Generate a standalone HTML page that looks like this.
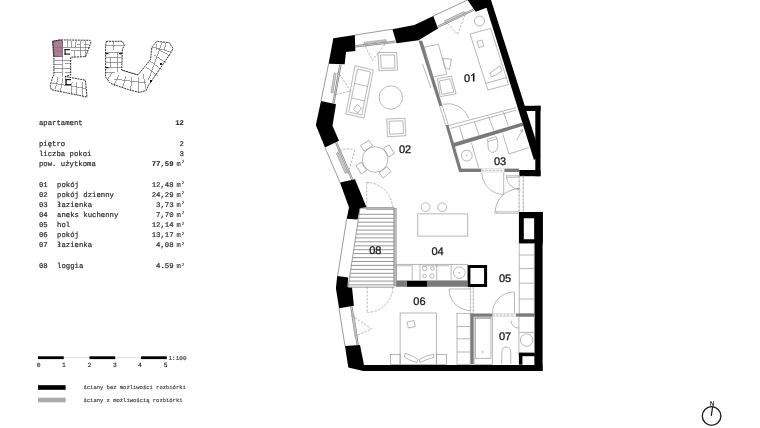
<!DOCTYPE html>
<html><head><meta charset="utf-8">
<style>
html,body{margin:0;padding:0;background:#fff;width:760px;height:428px;overflow:hidden}
svg{display:block;will-change:transform;text-rendering:geometricPrecision}
.m{font-family:"Liberation Mono",monospace;fill:#2a2a2a;stroke:#2a2a2a;stroke-width:0.2;font-size:7.3px}
.b{font-weight:bold;fill:#1a1a1a;stroke-width:0.05}
.mm{fill:#444;stroke:#444;stroke-width:0.15;font-size:7.3px}
.sup{fill:#444;stroke:#444;stroke-width:0.1;font-size:4.2px}
.sm{fill:#444;stroke:#444;stroke-width:0.16}
.lab{font-family:"Liberation Sans",sans-serif;fill:#1a1a1a;stroke:#1a1a1a;stroke-width:0.3;font-size:11px}
.f{fill:none;stroke:#999;stroke-width:0.7}
.d{fill:none;stroke:#999;stroke-width:0.7;stroke-dasharray:2.4 1.3}
.g{fill:#7a7a7a}
</style></head>
<body>
<svg width="760" height="428" viewBox="0 0 760 428">
<rect width="760" height="428" fill="#fff"/>

<!-- ============ TEXT BLOCK ============ -->
<g class="m">
<text x="38.9" y="125">apartament</text>
<text x="184" y="125" text-anchor="end" class="b">12</text>
<text x="38.9" y="145.5">piętro</text>
<text x="184" y="145.5" text-anchor="end">2</text>
<text x="38.9" y="155.7">liczba pokoi</text>
<text x="184" y="155.7" text-anchor="end">3</text>
<text x="38.9" y="166">pow. użytkoma</text>
<text x="173.6" y="166" text-anchor="end" class="b">77,59</text><text x="176.5" y="166" class="mm">m</text><text x="181.7" y="163.4" class="sup">2</text>

<text x="38.9" y="187">01</text><text x="57" y="187">pokój</text><text x="173.6" y="187" text-anchor="end">12,48</text><text x="176.5" y="187" class="mm">m</text><text x="181.7" y="184.4" class="sup">2</text>
<text x="38.9" y="197">02</text><text x="57" y="197">pokój dzienny</text><text x="173.6" y="197" text-anchor="end">24,29</text><text x="176.5" y="197" class="mm">m</text><text x="181.7" y="194.4" class="sup">2</text>
<text x="38.9" y="207">03</text><text x="57" y="207">łazienka</text><text x="173.6" y="207" text-anchor="end">3,73</text><text x="176.5" y="207" class="mm">m</text><text x="181.7" y="204.4" class="sup">2</text>
<text x="38.9" y="217">04</text><text x="57" y="217">aneks kuchenny</text><text x="173.6" y="217" text-anchor="end">7,70</text><text x="176.5" y="217" class="mm">m</text><text x="181.7" y="214.4" class="sup">2</text>
<text x="38.9" y="227.3">05</text><text x="57" y="227.3">hol</text><text x="173.6" y="227.3" text-anchor="end">12,14</text><text x="176.5" y="227.3" class="mm">m</text><text x="181.7" y="224.7" class="sup">2</text>
<text x="38.9" y="237.4">06</text><text x="57" y="237.4">pokój</text><text x="173.6" y="237.4" text-anchor="end">13,17</text><text x="176.5" y="237.4" class="mm">m</text><text x="181.7" y="234.8" class="sup">2</text>
<text x="38.9" y="247.4">07</text><text x="57" y="247.4">łazienka</text><text x="173.6" y="247.4" text-anchor="end">4,08</text><text x="176.5" y="247.4" class="mm">m</text><text x="181.7" y="244.8" class="sup">2</text>
<text x="38.9" y="268.2">08</text><text x="57" y="268.2">loggia</text><text x="173.6" y="268.2" text-anchor="end">4.59</text><text x="176.5" y="268.2" class="mm">m</text><text x="181.7" y="265.6" class="sup">2</text>
</g>

<!-- scale bar -->
<rect x="38" y="356.3" width="25.8" height="2.8" fill="#000"/>
<rect x="63.8" y="357.2" width="25.7" height="1" fill="#ddd"/>
<rect x="89.5" y="356.3" width="25.8" height="2.8" fill="#000"/>
<rect x="115.3" y="357.2" width="25.7" height="1" fill="#ddd"/>
<rect x="141" y="356.3" width="25.8" height="2.8" fill="#000"/>
<g class="m sm" style="font-size:6.3px;fill:#333;stroke:#333" text-anchor="middle">
<text x="38.7" y="367">0</text><text x="64" y="367">1</text><text x="89.5" y="367">2</text>
<text x="114.8" y="367">3</text><text x="140" y="367">4</text><text x="165.6" y="367">5</text>
</g>
<text class="m sm" x="168.5" y="359.5" style="font-size:6px">1:100</text>

<!-- legend -->
<rect x="38" y="385.2" width="27.6" height="4.6" fill="#000"/>
<rect x="38" y="397.7" width="27.6" height="4.6" fill="#aaa"/>
<text class="m sm" x="83.5" y="389" style="font-size:5.5px">ściany bez możliwości rozbiórki</text>
<text class="m sm" x="83.5" y="401.5" style="font-size:5.5px">ściany z możliwością rozbiórki</text>

<!-- compass -->
<circle cx="711.6" cy="416" r="9.3" fill="none" stroke="#1a1a1a" stroke-width="1.3"/>
<line x1="711.3" y1="415.8" x2="712.6" y2="406.8" stroke="#1a1a1a" stroke-width="1.2"/>
<text x="712.2" y="405.6" text-anchor="middle" transform="translate(712.2 0) scale(0.85 1) translate(-712.2 0)" style="font-family:'Liberation Sans',sans-serif;font-size:6.8px;fill:#1a1a1a;stroke:#1a1a1a;stroke-width:0.25">N</text>


<!-- ============ MINIMAP ============ -->
<g id="mini">
<polygon points="52.7,41.3 60.1,39.9 62.5,41 62.5,56.5 53.6,56.5" fill="#b27a92" stroke="#5a3848" stroke-width="0.7"/>
<g fill="none" stroke="#777" stroke-width="0.7" shape-rendering="crispEdges">
<!-- bldg1 top wing -->
<polyline points="62.5,40.5 62.5,56"/>
<line x1="67" y1="40.5" x2="67" y2="47"/><line x1="71.5" y1="40.5" x2="71.5" y2="47"/><line x1="76" y1="40.5" x2="75.5" y2="47"/>
<line x1="80.5" y1="40.5" x2="80.5" y2="56.5"/><line x1="85" y1="41" x2="85" y2="56.5"/>
<line x1="62.5" y1="47" x2="90" y2="47"/><line x1="70.5" y1="50.5" x2="88" y2="50.5"/>
<line x1="74" y1="50.5" x2="74" y2="57"/><line x1="77" y1="44" x2="80" y2="44"/><line x1="84" y1="44" x2="89" y2="44"/>
<!-- bldg1 column -->
<line x1="54" y1="47" x2="62.5" y2="47"/><line x1="53.8" y1="51.5" x2="62.5" y2="51.5"/>
<line x1="54" y1="60" x2="70.7" y2="60"/><line x1="54" y1="64" x2="62" y2="64"/><line x1="54" y1="68" x2="70.7" y2="68"/><line x1="54" y1="72" x2="62" y2="72"/>
<line x1="62" y1="56" x2="62" y2="76.5"/><line x1="65" y1="63" x2="70.7" y2="63"/><line x1="65" y1="72" x2="70.7" y2="72"/>
<!-- bldg1 bottom wing -->
<line x1="58" y1="77" x2="55.5" y2="88.5"/><line x1="63" y1="78" x2="60.5" y2="90.5"/><line x1="72" y1="81.5" x2="71" y2="94"/><line x1="77" y1="82" x2="76.5" y2="95"/><line x1="82" y1="82" x2="82" y2="96"/>
<line x1="52" y1="83" x2="86" y2="88.5"/><line x1="65" y1="76.5" x2="65" y2="86"/>
<!-- bldg2 left arm -->
<line x1="106" y1="45.5" x2="124" y2="45.5"/><line x1="106" y1="52" x2="122" y2="52"/><line x1="106" y1="57" x2="122" y2="57"/><line x1="106" y1="62" x2="122" y2="62"/><line x1="106" y1="67" x2="122" y2="67"/><line x1="106" y1="72" x2="115" y2="72"/>
<line x1="113" y1="41.5" x2="113" y2="50"/><line x1="117" y1="52" x2="117" y2="72"/><line x1="110" y1="57" x2="110" y2="67"/>
<!-- bldg2 bottom -->
<line x1="112" y1="73" x2="107.5" y2="79.5"/><line x1="119" y1="75" x2="114" y2="85.5"/><line x1="126" y1="76" x2="122.5" y2="88"/><line x1="132" y1="77" x2="130.5" y2="90.5"/><line x1="138" y1="76.5" x2="139" y2="92"/><line x1="143" y1="74" x2="146" y2="89"/>
<line x1="114" y1="79" x2="146" y2="83"/><line x1="121.7" y1="70" x2="137.9" y2="75"/>
<!-- bldg2 right arm -->
<line x1="146" y1="67" x2="158" y2="76"/><line x1="150" y1="61" x2="162" y2="70"/><line x1="154" y1="55" x2="166" y2="63"/><line x1="158" y1="49" x2="170" y2="56"/>
<line x1="151.9" y1="46.9" x2="171" y2="52"/><line x1="162" y1="41.5" x2="148" y2="80"/><line x1="157" y1="44" x2="156" y2="50"/><line x1="166" y1="43" x2="164" y2="50"/>
</g>
<g fill="none" stroke="#1a1a1a" stroke-width="0.9" stroke-dasharray="2 0.8">
<polygon points="52.7,41.3 60.1,39.9 89.9,40.3 91,42 85.7,56.7 70.7,57.2 70.7,75 65,76.5 85.4,80.2 87,97 51.3,89.7 50.3,85.5 52.9,76 53.9,75.5 53.9,55"/>
<polygon points="106.3,41.3 122.4,41.3 124.5,45.5 122.4,49 121.7,70 137.9,75 150.5,59.5 151.9,46.9 156.8,41.3 169.4,42.7 172.9,48.3 171.5,51.8 148.4,85.5 146.3,90.4 139.3,92.5 126.6,89 110.5,83.4 105.6,77.1 105.6,46.2"/>
</g>
<g fill="#1a1a1a">
<rect x="64.5" y="49" width="5.5" height="1.2"/><rect x="64.5" y="53.5" width="5.5" height="1.2"/><rect x="64.5" y="49" width="1.2" height="5.7"/>
<rect x="65.5" y="79" width="5.5" height="1.2"/><rect x="65.5" y="84" width="5.5" height="1.2"/><rect x="65.5" y="79" width="1.2" height="6"/>
<rect x="105.5" y="53" width="3" height="1.3"/><rect x="119" y="53" width="3" height="1.3"/>
<rect x="105.5" y="67" width="3" height="1.3"/><rect x="150" y="80" width="2" height="2"/><rect x="160" y="63" width="2" height="2"/>
</g>
</g>
<!-- ============ FLOOR PLAN ============ -->
<g id="plan">
<!-- black walls -->
<g fill="#000">
<polygon points="333.3,38.3 354.8,35.1 355.4,50.9 346,52 344.7,64.2 328.6,63.8"/>
<polygon points="392.4,29.2 414.4,25 433.3,16 438,28.6 418.6,40.2 396.6,43.3"/>
<polygon points="467.5,0 491,0 540.5,155 534,160 486.5,7.7 475.7,11.8"/>
<rect x="522" y="105.8" width="18.5" height="5.2"/>
<rect x="535.3" y="105.8" width="5.2" height="70.4"/>
<rect x="519.3" y="170" width="21.2" height="6.2"/>
<polygon points="321,101 336,104.2 332.5,125.8 339,140.8 325,147.5 315.8,125"/>
<polygon points="340,182.5 355,179.2 366.5,207.3 360,208.3 357.5,219.5 346.7,218.8 349,207.5"/>
<polygon points="337.2,276.1 348.1,277.4 347.5,287 352,287.6 353.9,305.8 339.1,308.2 335.9,288.3"/>
<polygon points="345,346 360,345 364,364.9 542.5,364.9 542.5,371 363.3,371 348.3,367.5"/>
<path d="M518.9,211.9 H542.8 V243.5 H518.9 Z M523.8,218.2 V239.3 H534.4 V218.2 Z" fill-rule="evenodd"/>
<rect x="534.4" y="211.9" width="8.2" height="159"/>
<path d="M467.4,264.9 H487.1 V286.9 H467.4 Z M470.4,267.9 V283.9 H484.1 V267.9 Z" fill-rule="evenodd"/>
<rect x="406.7" y="280.9" width="20.8" height="5.9"/>
<rect x="518.9" y="352.7" width="16" height="3.5"/>
<rect x="518.9" y="352.7" width="3.5" height="12"/>
</g>

<!-- gray walls -->
<g class="g">
<polygon points="418.6,40.7 422.3,40.7 442.5,106 439.3,106"/>
<polygon points="445.5,125 448.5,125 462.3,171.7 459,171.7"/>
<polygon points="451.5,143.5 522.5,122.5 523.5,125.8 453,147.2"/>
<rect x="459" y="168.6" width="22.2" height="3.4"/>
<rect x="504.4" y="168.6" width="14.6" height="3.4"/>
<rect x="396" y="280.9" width="10.7" height="5.9"/>
<rect x="427.5" y="280.9" width="40" height="5.9"/>
<rect x="470.4" y="313.5" width="22" height="3.2"/>
<rect x="516" y="313.5" width="18.4" height="3.2"/>
<rect x="470.4" y="313.5" width="3.2" height="50.8"/>
</g>

<!-- window & thin outlines -->
<g fill="none" stroke="#555" stroke-width="0.6">
<line x1="354.8" y1="35.1" x2="392.4" y2="29.2"/>
<line x1="433.3" y1="16" x2="467.5" y2="0"/>
<line x1="328.6" y1="63.8" x2="321" y2="101"/>
<line x1="325" y1="147.5" x2="340" y2="182.5"/>
<line x1="346.7" y1="218.8" x2="337.5" y2="276.7"/>
<line x1="339" y1="308.3" x2="345" y2="346"/>
</g>
<!-- window frames -->
<g fill="none" stroke="#333" stroke-width="0.55">
<line x1="355.4" y1="45.6" x2="395.5" y2="41"/>
<line x1="355.5" y1="47" x2="395.7" y2="42.4"/>
<line x1="437.5" y1="26.2" x2="473.5" y2="9"/>
<line x1="438.1" y1="27.5" x2="474.1" y2="10.3"/>
<line x1="339.8" y1="64.5" x2="332.6" y2="103.8"/>
<line x1="341.2" y1="64.7" x2="334" y2="104"/>
<line x1="335.4" y1="142.5" x2="351.8" y2="180.3"/>
<line x1="336.7" y1="142" x2="353.1" y2="179.8"/>
<line x1="350.6" y1="306.5" x2="357.2" y2="346"/>
<line x1="352" y1="306.3" x2="358.6" y2="345.8"/>
</g>
<g fill="#c8c8c8" stroke="#777" stroke-width="0.4">
<polygon points="364,42.2 386,39.6 386.3,41.8 364.3,44.4"/>
<polygon points="444.6,20.7 464.2,11.3 465.2,13.3 445.6,22.7"/>
<polygon points="334.1,72.9 336.3,73.3 333,92.9 330.8,92.5"/>
<polygon points="336.3,153.5 338.3,152.6 347.2,172.5 345.2,173.4"/>
<polygon points="351.8,315.5 354,315.2 357.2,336.5 355,336.8"/>
</g>
<g fill="#fff" stroke="#555" stroke-width="0.4">
<circle cx="364.5" cy="45.3" r="0.9"/><circle cx="385.8" cy="42.8" r="0.9"/>
<circle cx="445" cy="23.5" r="0.9"/><circle cx="464.7" cy="14.2" r="0.9"/>
<circle cx="338.3" cy="73.2" r="0.9"/><circle cx="335" cy="93" r="0.9"/>
<circle cx="338.3" cy="152.6" r="0.9"/><circle cx="347.2" cy="172" r="0.9"/>
<circle cx="352.9" cy="315.5" r="0.9"/><circle cx="356.2" cy="336.5" r="0.9"/>
</g>
<!-- loggia -->
<g>
<polygon points="360,208.3 394,208.3 394,285.8 348.3,285.8" fill="none" stroke="#888" stroke-width="0.8"/>
<g stroke="#8a8a8a" stroke-width="0.9">
<line x1="359.0" y1="214.3" x2="394" y2="214.3"/>
<line x1="358.5" y1="218.3" x2="394" y2="218.3"/>
<line x1="357.9" y1="222.2" x2="394" y2="222.2"/>
<line x1="357.3" y1="226.1" x2="394" y2="226.1"/>
<line x1="356.7" y1="230.1" x2="394" y2="230.1"/>
<line x1="356.1" y1="234.0" x2="394" y2="234.0"/>
<line x1="355.5" y1="237.9" x2="394" y2="237.9"/>
<line x1="354.9" y1="241.8" x2="394" y2="241.8"/>
<line x1="354.3" y1="245.8" x2="394" y2="245.8"/>
<line x1="353.7" y1="249.7" x2="394" y2="249.7"/>
<line x1="353.1" y1="253.6" x2="394" y2="253.6"/>
<line x1="352.5" y1="257.6" x2="394" y2="257.6"/>
<line x1="352.0" y1="261.5" x2="394" y2="261.5"/>
<line x1="351.4" y1="265.4" x2="394" y2="265.4"/>
<line x1="350.8" y1="269.4" x2="394" y2="269.4"/>
<line x1="350.2" y1="273.3" x2="394" y2="273.3"/>
<line x1="349.6" y1="277.2" x2="394" y2="277.2"/>
<line x1="349.0" y1="281.1" x2="394" y2="281.1"/>
</g>
<rect x="394" y="208.3" width="2.2" height="77.5" fill="#bbb" stroke="#777" stroke-width="0.4"/>
<rect x="366.5" y="207.3" width="27.5" height="2.4" fill="#bbb" stroke="#777" stroke-width="0.4"/>
<rect x="348.3" y="284.6" width="45.7" height="2.7" fill="#ddd" stroke="#777" stroke-width="0.45"/>
</g>


<!-- furniture -->
<g class="f">
<!-- room 02 -->
<polygon points="378,52.5 396.7,52.5 397.5,70 379,70.8"/>
<polygon points="380.5,55 394.5,55 395,68 381.2,68.3"/>
<polygon points="355,65.8 373.3,70 364,118 345.8,114"/>
<polygon points="357.5,69 370.5,72 361.8,115 348.6,112"/>
<line x1="354.6" y1="83.5" x2="368" y2="86.5"/>
<line x1="351.8" y1="98" x2="365" y2="101"/>
<polygon points="357,104.5 361.5,108 358,113 353.5,109.5"/>
<circle cx="390.8" cy="97.5" r="11.7"/>
<polygon points="386.7,119 405,118.3 405.8,135.8 387.5,136.7"/>
<polygon points="389,121.3 403,120.8 403.5,133.5 389.7,134.2"/>
<circle cx="375.1" cy="159.5" r="12.8"/>
<g transform="translate(375.1 159.5)">
<rect x="-5" y="-19.5" width="10" height="6.5" transform="rotate(-32)"/>
<rect x="-5" y="-19.5" width="10" height="6.5" transform="rotate(58)"/>
<rect x="-5" y="-19.5" width="10" height="6.5" transform="rotate(142)"/>
<rect x="-5" y="-19.5" width="10" height="6.5" transform="rotate(-122)"/>
</g>
<!-- room 01 -->
<circle cx="479.5" cy="21" r="5"/>
<polygon points="470.1,34 490.7,28.4 508.5,84.5 487.9,90.1"/>
<line x1="486" y1="83.2" x2="506.6" y2="77.6"/>
<polygon points="477,41.5 482,40 483.8,46 478.8,47.5"/>
<polygon points="489.8,73.3 500,65.8 501.9,71.4 491.6,77"/>
<polygon points="424.3,47.1 438.4,44.3 446.8,74.2 431.8,77"/>
<polygon points="443,58.3 451.4,59.3 449.6,69.5 444.9,67.7"/>
<polygon points="437.4,78.9 451.4,76.1 456.1,93.8 440.2,96.6"/>
<polygon points="439.3,81 450,78.8 454,92 441.8,94.3"/>
<line x1="422.5" y1="63.9" x2="430.9" y2="88.2"/>
<line x1="448.9" y1="125.5" x2="515.8" y2="107.7"/>
<line x1="450.7" y1="128.4" x2="516.4" y2="110.1"/>
<line x1="459.5" y1="126.7" x2="463.7" y2="140.3"/>
<line x1="474.4" y1="121.9" x2="479.1" y2="135.5"/>
<line x1="488.6" y1="116.6" x2="493.9" y2="130.8"/>
<line x1="503.4" y1="111.8" x2="508.1" y2="125.5"/>
<path d="M442.9,104.2 A22,22 0 0 1 468.6,118.4"/>
<line x1="439.6" y1="106" x2="445.8" y2="125.5"/>
<line x1="442.3" y1="106" x2="448.5" y2="125.5"/>
<!-- room 03 -->
<circle cx="466.8" cy="155.7" r="5.4"/><circle cx="466.8" cy="155.7" r="0.4"/>
<line x1="471.4" y1="142.6" x2="478.6" y2="167.5"/>
<path d="M487.1,139.3 L496.1,136.7 L497.2,139.8 Q499,148 495.5,151.5 Q491,154 488.5,149.5 Q487.5,144 488,141.8 Z"/><line x1="487.6" y1="141.6" x2="496.8" y2="139"/>
<polyline points="502.6,133.5 509,154 528.9,147.6"/>
<line x1="516.7" y1="140" x2="522.5" y2="129.6"/><polyline points="520,130.6 522.5,129.6 522.3,132.3"/>
<!-- room 04 -->
<circle cx="425.6" cy="207.2" r="4.4"/>
<circle cx="442.2" cy="207.2" r="4.4"/>
<rect x="417.8" y="213.9" width="50" height="22.2"/>
<rect x="396.5" y="264.3" width="71" height="16.3"/><line x1="397.5" y1="265.8" x2="411" y2="265.8"/><line x1="422" y1="265.8" x2="449" y2="265.8"/>
<line x1="412.2" y1="263.9" x2="412.2" y2="280.8"/>
<line x1="420" y1="263.9" x2="420" y2="280.8"/>
<line x1="436.7" y1="263.9" x2="436.7" y2="280.8"/>
<line x1="451.1" y1="263.9" x2="451.1" y2="280.8"/>
<circle cx="424.6" cy="268.5" r="2.2"/><circle cx="432.5" cy="268.5" r="1.8"/>
<circle cx="424.6" cy="275.9" r="1.8"/><circle cx="432" cy="275.9" r="2.2"/>
<circle cx="459.3" cy="272.7" r="5.8"/><circle cx="459.3" cy="272.7" r="0.5"/>
<!-- room 05 -->
<rect x="519.2" y="243.5" width="15" height="70"/>
<line x1="519.2" y1="255" x2="534.2" y2="255"/>
<line x1="519.2" y1="268.6" x2="534.2" y2="268.6"/>
<line x1="519.2" y1="283.2" x2="534.2" y2="283.2"/>
<line x1="519.2" y1="299" x2="534.2" y2="299"/>
<path d="M470.4,310.5 A21.4,21.4 0 0 1 449,289 L470.4,289"/>
<path d="M492.4,313.5 A21.5,21.5 0 0 1 514.5,292 L514.5,313.5"/>
<path d="M481.9,172.6 A21.8,21.8 0 0 0 503.7,194.4 L503.7,172.6"/>
<path d="M506.5,176.5 A12.5,12.5 0 0 0 519,189"/>
<path d="M495.2,212.6 A23.8,23.8 0 0 1 519,188.8"/>
<rect x="495.5" y="211.7" width="23.5" height="1.8" fill="#ddd" stroke="#999" stroke-width="0.4"/>
<circle cx="495.5" cy="212.6" r="1" fill="#fff" stroke="#888" stroke-width="0.5"/>
<rect x="506.5" y="175.6" width="12.5" height="1.8" fill="#ddd" stroke="#999" stroke-width="0.4"/>
<path d="M517.6,190.5 L519.1,188.3 L520.6,190.5" stroke="#777" stroke-width="0.5"/>
<!-- room 06 -->
<rect x="400.1" y="313" width="36.3" height="51.3"/>
<rect x="390.5" y="354.5" width="9.6" height="9.8"/>
<rect x="436.4" y="354.5" width="10.1" height="9.8"/>
<polygon points="407,322 414,320.5 415.3,326.5 408.3,328"/>
<path d="M405,353.5 Q410,354 418,359.5 L417,362.5 Q410,361 404.5,357 Z"/>
<path d="M419,359.5 Q427,355 433.5,354.3 L434,357.5 Q427,359 420,362.5 Z"/>
<rect x="457" y="313.3" width="13.2" height="51"/>
<line x1="457" y1="326.5" x2="470.2" y2="326.5"/>
<line x1="457" y1="338.8" x2="470.2" y2="338.8"/>
<line x1="457" y1="352" x2="470.2" y2="352"/>
<!-- room 07 -->
<rect x="474.1" y="317.7" width="18.2" height="46.6"/>
<rect x="475.5" y="318.6" width="15.4" height="39.7"/>
<circle cx="482.5" cy="352" r="0.6"/>
<rect x="518.9" y="316.3" width="15.4" height="36.4"/>
<line x1="518.9" y1="332.4" x2="534.3" y2="332.4"/>
<circle cx="526.6" cy="340.1" r="6.2"/>
<path d="M501.8,364 L501.8,353 Q501.8,347 506.3,347 Q510.8,347 510.8,353 L510.8,364"/>
<path d="M511,320.5 A7.5,7.5 0 0 0 518.5,328"/>
</g>
<!-- dashed doors / sashes -->
<g class="d">
<polyline points="366.7,182.5 366.7,208.3"/>
<path d="M366.7,182.5 A25.8,25.8 0 0 1 392.5,208.3"/>
<polyline points="367.2,286.9 367.2,312.3"/>
<path d="M367.2,312.3 A25.5,25.5 0 0 0 392.8,286.9"/>
<polyline points="365.5,46.5 372.4,60.4 385.7,43.3"/>
<polyline points="447.5,23.3 457.5,34.2 465,15"/>
<polyline points="339.5,74 350.6,91 333.7,95"/>
<path d="M339.5,150.5 Q347,147 354.7,150.6 L349,170"/>
<polyline points="351.8,315.6 371.8,329 355.7,336"/>
<line x1="519.1" y1="176" x2="519.1" y2="212.6"/>
<line x1="523.3" y1="176" x2="523.3" y2="212.6"/>
<line x1="481.5" y1="170.3" x2="504.4" y2="170.3"/>
<line x1="470.4" y1="287" x2="470.4" y2="313"/>
<line x1="473.4" y1="287" x2="473.4" y2="313"/>
<line x1="492.4" y1="315" x2="515.4" y2="315"/>
</g>

<g stroke="#bbb" stroke-width="0.5" fill="none">
<line x1="481.2" y1="168.8" x2="504.4" y2="168.8"/><line x1="481.2" y1="171.9" x2="504.4" y2="171.9"/>
<line x1="492.4" y1="313.7" x2="516" y2="313.7"/><line x1="492.4" y1="316.4" x2="516" y2="316.4"/>
<line x1="470.6" y1="287" x2="470.6" y2="313.5"/><line x1="473.2" y1="287" x2="473.2" y2="313.5"/>
<line x1="519.3" y1="175" x2="519.3" y2="212"/><line x1="523.1" y1="175" x2="523.1" y2="212"/>
</g>
<!-- room labels -->
<path d="M472.9,81.6 V74.9 Q472.3,75.9 471,76.3 V75.2 Q473,74.4 473.3,73.3 H474.5 V81.6 Z" fill="#1a1a1a"/>
<g class="lab" text-anchor="middle">
<text x="467" y="81.6">0</text>
<text x="405" y="152.5">02</text>
<text x="500" y="164.8">03</text>
<text x="437.5" y="254.8">04</text>
<text x="505" y="281.5">05</text>
<text x="419.4" y="305">06</text>
<text x="505" y="339.6">07</text>
<text x="375.3" y="253.6">08</text>
</g>
</g>
</svg>
</body></html>
